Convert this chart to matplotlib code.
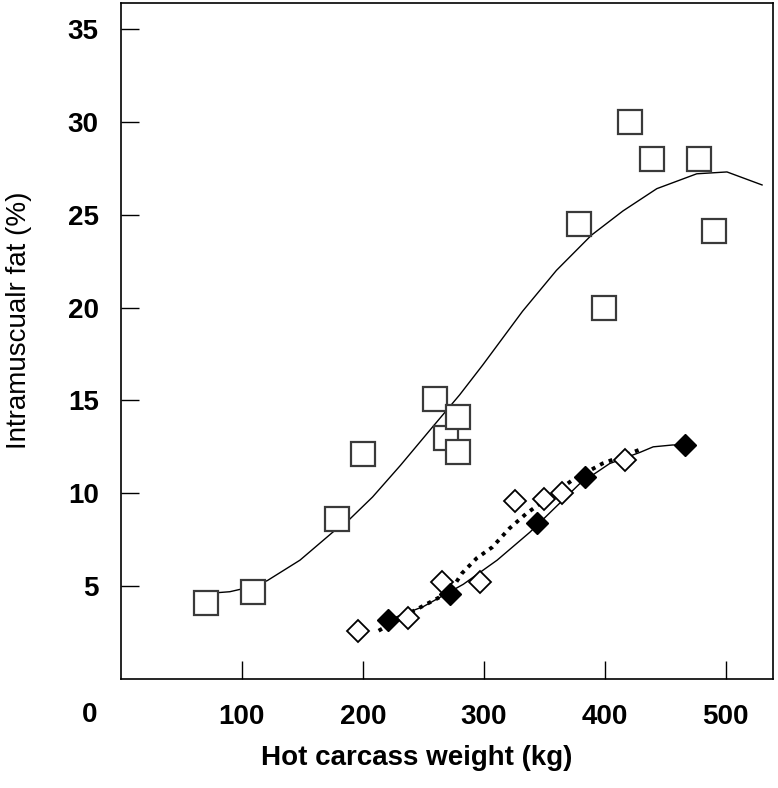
import matplotlib
matplotlib.use("Agg")
import matplotlib.pyplot as plt

# open squares + fitted curve
sq_x = [70, 109, 179, 200, 260, 269, 279, 279, 379, 399, 421, 439, 478, 490]
sq_y = [4.1, 4.7, 8.6, 12.1, 15.1, 13.0, 12.2, 14.1, 24.5, 20.0, 30.0, 28.0, 28.0, 24.1]
curve_x = [70, 90, 110, 121, 148, 175, 189, 208, 231, 258, 280, 299, 332, 360, 389, 415, 443, 476, 501, 530]
curve_y = [4.6, 4.7, 5.0, 5.3, 6.4, 7.9, 8.6, 9.8, 11.5, 13.6, 15.3, 16.9, 19.8, 22.0, 23.9, 25.2, 26.4, 27.2, 27.3, 26.6]

# open diamonds + dotted fit
od_x = [196, 237, 265, 297, 326, 350, 365, 417]
od_y = [2.6, 3.3, 5.2, 5.2, 9.6, 9.7, 10.0, 11.8]
dot_x = [213, 240, 272, 282, 294, 307, 321, 335, 373, 398, 431]
dot_y = [2.6, 3.6, 4.7, 5.7, 6.5, 7.1, 8.1, 8.9, 10.7, 11.6, 12.4]

# filled diamonds + solid fit
fd_x = [221, 272, 344, 384, 466]
fd_y = [3.2, 4.6, 8.4, 10.9, 12.6]
low_x = [222, 250, 283, 311, 338, 379, 404, 429, 440, 456, 466]
low_y = [3.2, 3.9, 5.1, 6.4, 7.9, 10.5, 11.6, 12.2, 12.5, 12.6, 12.6]

x_ticks = [100, 200, 300, 400, 500]
y_ticks = [5, 10, 15, 20, 25, 30, 35]

plt.rcParams["font.family"] = ["Liberation Sans", "DejaVu Sans"]

fig = plt.figure(figsize=(7.78, 7.88), dpi=100)
ax = fig.add_axes([0.1555, 0.1383, 0.838, 0.858])

ax.plot(curve_x, curve_y, color="black", lw=1.0, zorder=2)
ax.plot(low_x, low_y, color="black", lw=1.0, zorder=2)
ax.plot(dot_x, dot_y, color="black", lw=2.8, linestyle=(0, (1, 1.4)), zorder=2)

ax.plot(sq_x, sq_y, "s", ms=17, mfc="white", mec="#3a3a3a", mew=1.6, zorder=3)
ax.plot(od_x, od_y, "D", ms=11.5, mfc="white", mec="black", mew=1.3, zorder=3)
ax.plot(fd_x, fd_y, "D", ms=11, mfc="black", mec="black", zorder=4)

ax.set_xlim(0, 539)
ax.set_ylim(0, 36.4)
ax.set_xticks(x_ticks)
ax.set_yticks(y_ticks)
ax.tick_params(direction="in", length=13, width=1.0, labelsize=20)
ax.tick_params(axis="y", pad=16)
ax.tick_params(axis="x", pad=18)
for lab in ax.get_xticklabels() + ax.get_yticklabels():
    lab.set_fontweight("bold")
for sp in ax.spines.values():
    sp.set_linewidth(1.2)

ax.text(-0.048, -0.053, "0", transform=ax.transAxes, ha="center", va="center",
        fontsize=20, fontweight="bold")

ax.set_xlabel("Hot carcass weight (kg)", fontsize=20, fontweight="bold")
ax.set_ylabel("Intramuscualr fat (%)", fontsize=20)
ax.xaxis.set_label_coords(0.454, -0.097)
ax.yaxis.set_label_coords(-0.137, 0.531)

fig.savefig("out.png", dpi=100)
